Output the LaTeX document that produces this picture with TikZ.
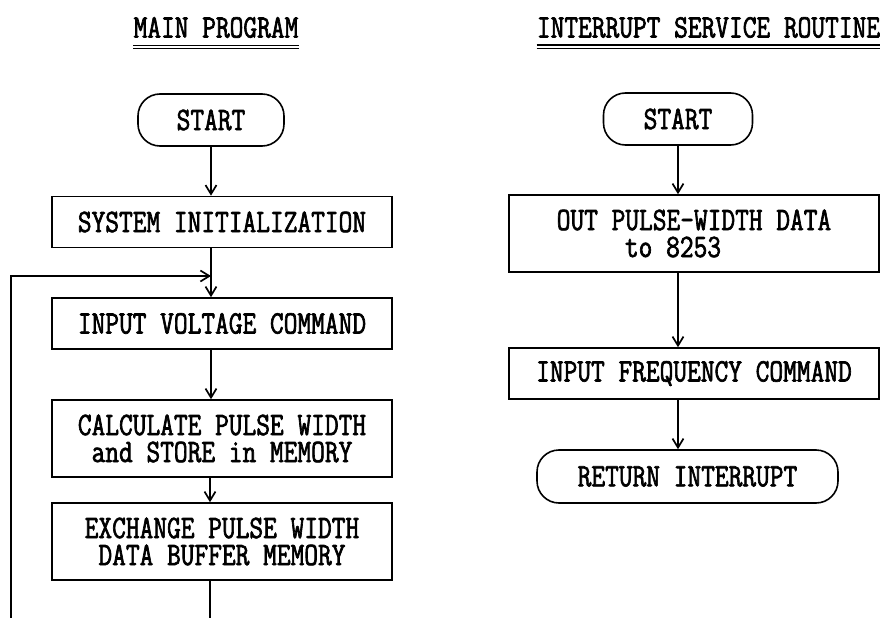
\documentclass[tikz,border=0pt]{standalone}
\usepackage{fontspec}
\newfontfamily\flowfont{Latin Modern Mono}[FakeStretch=0.815,FakeBold=2]
\usetikzlibrary{arrows.meta}

\begin{document}
\begin{tikzpicture}[x=1pt,y=-1pt,
  every node/.style={font=\flowfont\fontsize{32.7pt}{27pt}\selectfont, inner sep=0pt},
  proc/.style={draw, line width=1.6pt, rectangle, minimum width=340pt,
               minimum height=51pt, align=center},
  term/.style={draw, line width=1.6pt, rectangle, rounded corners=22pt,
               minimum height=52pt},
  flow/.style={line width=1.6pt,
               -{Straight Barb[length=9pt,width=11pt,line width=1.7pt]}},
  plain/.style={line width=1.6pt},
  uline/.style={line width=1.2pt}
]
\useasboundingbox (0,0) rectangle (887,618);

% headings with double underline
\node (t1) at (216,27.5) {MAIN PROGRAM};
\node (t2) at (708.5,27.5) {INTERRUPT SERVICE ROUTINE};
\foreach \t in {t1,t2}{
  \draw[uline] ([yshift=-7pt]\t.south west) -- ([yshift=-7pt]\t.south east);
  \draw[uline] ([yshift=-10.5pt]\t.south west) -- ([yshift=-10.5pt]\t.south east);
}

% main program
\node[term, minimum width=146pt] (startL) at (211,120) {START};
\node[proc] (sys)  at (222,222)   {SYSTEM INITIALIZATION};
\node[proc] (inv)  at (222,323.5) {INPUT VOLTAGE COMMAND};
\node[proc, minimum height=77pt] (calc) at (222,438.5)
  {CALCULATE PULSE WIDTH\\and STORE in MEMORY};
\node[proc, minimum height=77pt] (exch) at (222,541.5)
  {EXCHANGE PULSE WIDTH\\DATA BUFFER MEMORY};

\draw[flow] (startL.south) -- (startL.south |- sys.north);
\draw[flow] (sys.south -| startL) -- (inv.north -| startL);
\draw[flow] (inv.south -| startL) -- (calc.north -| startL);
\draw[flow] ([xshift=-1pt]calc.south -| startL) -- ([xshift=-1pt]exch.north -| startL);

% loop back to the voltage input
\coordinate (bot)   at (210,618);
\coordinate (loopB) at (11,618);
\coordinate (loopT) at (11,276);
\coordinate (join)  at (211,276);
\draw[plain] (exch.south -| bot) -- (bot);
\draw[flow] (loopB) -- (loopT) -- (join);

% interrupt service routine
\node[term, minimum width=149pt] (startR) at (678,119) {START};
\node[proc, minimum width=370pt, minimum height=77pt] (out) at (694,233.5)
  {OUT PULSE-WIDTH DATA\\to 8253\hspace*{42pt}};
\node[proc, minimum width=370pt] (freq) at (694,373.5) {INPUT FREQUENCY COMMAND};
\node[term, minimum width=301pt, minimum height=53pt] (ret) at (687.5,476.5)
  {RETURN INTERRUPT};

\draw[flow] (startR.south) -- (startR.south |- out.north);
\draw[flow] (out.south -| startR) -- (freq.north -| startR);
\draw[flow] (freq.south -| startR) -- (ret.north -| startR);
\end{tikzpicture}
\end{document}
